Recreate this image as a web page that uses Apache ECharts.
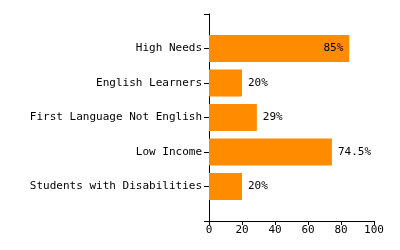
<!DOCTYPE html>
<html><head><meta charset="utf-8">
<script src="https://cdn.jsdelivr.net/npm/echarts@6/dist/echarts.min.js"></script>
<style>html,body{margin:0;padding:0;background:#fff}#c{width:400px;height:250px}</style>
</head><body><div id="c"></div>
<script>
const categories = ['High Needs', 'English Learners', 'First Language Not English', 'Low Income', 'Students with Disabilities'];
const values = [85, 20, 29, 74.5, 20];
const xTicks = [0, 20, 40, 60, 80, 100];

const font = 'DejaVu Sans Mono';
const yCats = [''].concat(categories, ['']);
const barData = [null].concat(values.map((v, i) => ({
  value: v,
  label: v >= 80 ? { position: 'insideRight', distance: 6 } : { position: 'right', distance: 6 }
})), [null]);

const chart = echarts.init(document.getElementById('c'), null, { renderer: 'canvas' });
chart.setOption({
  animation: false,
  grid: { left: 209, right: 26, top: 14, bottom: 29, containLabel: false },
  xAxis: {
    type: 'value', min: xTicks[0], max: xTicks[xTicks.length - 1], interval: 20,
    axisLine: { show: true, lineStyle: { color: '#000', width: 1 } },
    axisTick: { show: true, length: 4, lineStyle: { color: '#000' } },
    axisLabel: { color: '#000', fontFamily: font, fontSize: 11, margin: 4 },
    splitLine: { show: false }
  },
  yAxis: {
    type: 'category', data: yCats, inverse: true, boundaryGap: false,
    axisLine: { show: true, lineStyle: { color: '#000', width: 1 } },
    axisTick: { show: true, length: 5, alignWithLabel: true, lineStyle: { color: '#000' } },
    axisLabel: { color: '#000', fontFamily: font, fontSize: 11, margin: 7, interval: 0 },
    splitLine: { show: false }
  },
  series: [{
    type: 'bar', data: barData, barWidth: 27,
    itemStyle: { color: '#FF8C00' },
    label: { show: true, formatter: p => p.value + '%', color: '#000', fontFamily: font, fontSize: 11 }
  }]
});
</script></body></html>
